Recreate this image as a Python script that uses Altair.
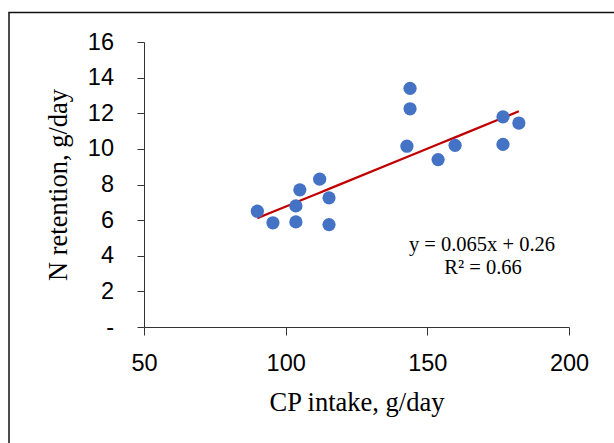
import altair as alt
import pandas as pd

# Data
cp_intake = [90.0, 95.5, 103.6, 103.6, 105.0, 112.0, 115.3, 115.3,
             142.8, 143.9, 143.9, 153.8, 159.8, 176.7, 176.7, 182.3]
n_retention = [6.5, 5.85, 5.9, 6.8, 7.7, 8.3, 7.25, 5.75,
               10.15, 13.4, 12.25, 9.4, 10.2, 11.8, 10.25, 11.45]

slope = 0.065
intercept = 0.26
eq_lines = ["y = 0.065x + 0.26", "R\u00b2 = 0.66"]

x_ticks = [50, 100, 150, 200]
y_ticks = [0, 2, 4, 6, 8, 10, 12, 14, 16]

df = pd.DataFrame({"cp": cp_intake, "nr": n_retention})

W, H = 425, 285
PAD = {"left": 144, "top": 42, "right": 614 - 144 - W, "bottom": 443 - 42 - H}

xscale = alt.Scale(domain=[50, 200], nice=False, zero=False)
yscale = alt.Scale(domain=[0, 16], nice=False)

axis_common = dict(
    grid=False,
    domainColor="#333333",
    tickColor="#333333",
    domainWidth=1,
    tickWidth=1,
    labelFont="Liberation Sans",
    labelFontSize=23.5,
    labelColor="#000000",
    labelOverlap=False,
    titleFont="Liberation Serif",
    titleFontSize=26.5,
    titleFontWeight="normal",
    titleColor="#000000",
)

x_axis = alt.Axis(
    values=x_ticks, tickSize=8, labelPadding=16, labelFlush=False,
    title="CP intake, g/day", titleY=83, titleBaseline="alphabetic",
    **axis_common,
)
y_axis = alt.Axis(
    values=y_ticks, tickSize=7, labelPadding=23.5, labelFlush=False,
    labelExpr="datum.value == 0 ? '-\u00a0\u00a0' : datum.label",
    title="N retention, g/day", titleX=-78, titleY=H / 2, titleAngle=-90,
    titleBaseline="alphabetic", titleAlign="center",
    **axis_common,
)

base = alt.Chart(df)

points = base.mark_circle(size=175, color="#4472C4", opacity=1).encode(
    x=alt.X("cp:Q", scale=xscale, axis=x_axis),
    y=alt.Y("nr:Q", scale=yscale, axis=y_axis),
)

trend = base.transform_calculate(
    fit=f"{slope} * datum.cp + {intercept}"
).mark_line(color="#C00000", strokeWidth=2.25).encode(
    x=alt.X("cp:Q", scale=xscale, axis=x_axis),
    y=alt.Y("fit:Q", scale=yscale, axis=y_axis),
    order="cp:Q",
)

one = alt.Chart(pd.DataFrame({"k": [0]}))

eq1 = one.mark_text(
    font="Liberation Serif", fontSize=20.5, color="#000000",
    align="center", baseline="alphabetic", text=eq_lines[0],
).encode(x=alt.value(338), y=alt.value(209))

eq2 = one.mark_text(
    font="Liberation Serif", fontSize=20.5, color="#000000",
    align="center", baseline="alphabetic", text=eq_lines[1],
).encode(x=alt.value(339), y=alt.value(232))

frame = one.mark_rect(fill=None, stroke="#111111", strokeWidth=1.5).encode(
    x=alt.value(-135), y=alt.value(-29.5), x2=alt.value(700), y2=alt.value(600)
)

chart = alt.layer(frame, trend, points, eq1, eq2).properties(
    width=W, height=H,
    autosize=alt.AutoSizeParams(type="none"),
    padding=PAD,
    background="white",
).configure_view(stroke=None)

chart.save("out.html", embed_options={"renderer": "svg", "actions": False})
